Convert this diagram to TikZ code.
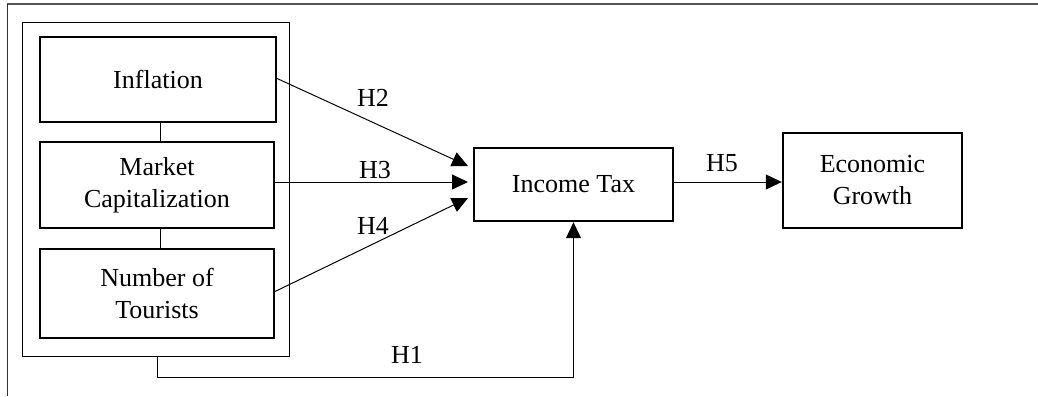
\documentclass[tikz,border=0pt]{standalone}
\usepackage{fontspec}
\setmainfont{Liberation Serif}
\usetikzlibrary{arrows.meta}
\definecolor{framegray}{RGB}{85,85,85}
\begin{document}
\begin{tikzpicture}[x=1pt,y=-1pt,
  varbox/.style={draw,line width=2.4pt,inner sep=0pt,align=center,font=\fontsize{26}{32}\selectfont},
  grpbox/.style={draw,line width=1pt,inner sep=0pt},
  lbl/.style={font=\fontsize{26}{32}\selectfont,inner sep=0pt},
  conn/.style={line width=1pt},
  arr/.style={line width=1pt,-{Triangle[length=16pt,width=15pt]}}]
\useasboundingbox (0,0) rectangle (1038,396);
\draw[framegray,line width=1.3pt] (7,4) -- (1038,4);
\draw[black!80,line width=0.8pt] (7,4) -- (7,396);
\node[grpbox,minimum width=267pt,minimum height=333pt] (grp) at (155.5,189.5) {};
\node[varbox,minimum width=236pt,minimum height=85pt] (infl) at (158,79.5) {Inflation};
\node[varbox,minimum width=234pt,minimum height=86pt] (mcap) at (157,185) {Market\\Capitalization};
\node[varbox,minimum width=234pt,minimum height=89pt] (tour) at (157,293.5) {Number of\\Tourists};
\node[varbox,minimum width=199pt,minimum height=73pt] (tax) at (573.5,184.5) {Income Tax};
\node[varbox,minimum width=179pt,minimum height=95pt] (eco) at (872.5,180.5) {Economic\\Growth};
\coordinate (t2) at (468,166);
\coordinate (t3) at (468,182);
\coordinate (t4) at (468,198);
\coordinate (s2) at (276,78);
\coordinate (s3) at (274,182);
\coordinate (s4) at (274,292);
\coordinate (h1a) at (157,356);
\coordinate (h1b) at (157,377);
\draw[conn] (infl.south -| 160,0) -- (mcap.north -| 160,0);
\draw[conn] (mcap.south -| 160,0) -- (tour.north -| 160,0);
\draw[arr] (s2) -- (t2);
\draw[arr] (s3) -- (t3);
\draw[arr] (s4) -- (t4);
\draw[arr] (h1a) -- (h1b) -| (tax.south);
\draw[arr] (tax.east |- t3) -- (eco.west |- t3);
\node[lbl] (lh2) at (373,98) {H2};
\node[lbl] (lh3) at (375,170) {H3};
\node[lbl] (lh4) at (373,226) {H4};
\node[lbl] (lh1) at (407,355) {H1};
\node[lbl] (lh5) at (722,163) {H5};
\end{tikzpicture}
\end{document}
